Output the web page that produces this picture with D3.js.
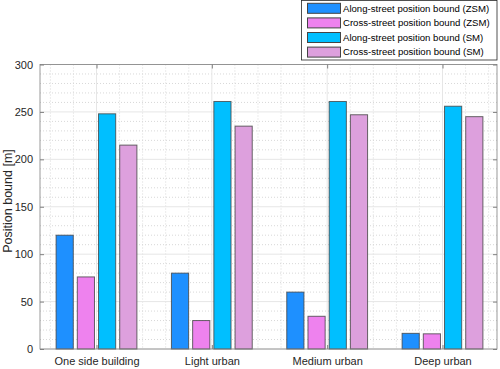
<!DOCTYPE html>
<html><head><meta charset="utf-8">
<script src="https://cdn.jsdelivr.net/npm/d3@7"></script>
<style>body{margin:0;background:#fff}svg{display:block}text{font-family:"Liberation Sans",Arial,sans-serif}</style>
</head><body><div id="c"></div>
<script>
const categories = ["One side building","Light urban","Medium urban","Deep urban"];
const seriesNames = ["Along-street position bound (ZSM)","Cross-street position bound (ZSM)","Along-street position bound (SM)","Cross-street position bound (SM)"];
const alongZSM = [120, 80, 60, 16.5];
const crossZSM = [76, 30, 34.5, 16];
const alongSM = [248, 261, 261, 256];
const crossSM = [215, 235, 247, 245];
const yTicks = [0,50,100,150,200,250,300];
const colors = ["#1E90FF","#EE82EE","#00BFFF","#DDA0DD"];
const seriesValues = [alongZSM, crossZSM, alongSM, crossSM];

const W=500,H=369, L=40, R=497, T=64.5, B=349;
const svg=d3.select("#c").append("svg").attr("width",W).attr("height",H);
const y=d3.scaleLinear().domain([0,300]).range([B,T]);
const x=d3.scaleLinear().domain([1,4]).range([96.5,442.5]);
const sub=d3.scaleBand().domain(d3.range(4)).range([-40.4,40.4]).paddingInner(0.19);

// minor grid
const g=svg.append("g");
d3.range(0,301,10).filter(v=>v%50!==0).forEach(v=>{
  g.append("line").attr("x1",L).attr("x2",R).attr("y1",y(v)).attr("y2",y(v)).attr("stroke","#d8d8d8").attr("stroke-dasharray","1,2").attr("stroke-width",1);
});
const x0=x.invert(L), x1=x.invert(R);
d3.range(Math.ceil(x0*5),Math.floor(x1*5)+1).map(v=>v/5).filter(v=>Math.abs(v-Math.round(v))>1e-6).forEach(v=>{
  g.append("line").attr("y1",T).attr("y2",B).attr("x1",x(v)).attr("x2",x(v)).attr("stroke","#d8d8d8").attr("stroke-dasharray","1,2").attr("stroke-width",1);
});
// major grid
yTicks.forEach(v=>g.append("line").attr("x1",L).attr("x2",R).attr("y1",y(v)).attr("y2",y(v)).attr("stroke","#e6e6e6"));
[1,2,3,4].forEach(v=>g.append("line").attr("y1",T).attr("y2",B).attr("x1",x(v)).attr("x2",x(v)).attr("stroke","#e6e6e6"));

// bars
seriesValues.forEach((vals,si)=>{
  svg.append("g").selectAll("rect").data(vals).join("rect")
    .attr("x",(d,i)=>x(i+1)+sub(si)).attr("width",sub.bandwidth())
    .attr("y",d=>y(d)).attr("height",d=>y(0)-y(d))
    .attr("fill",colors[si]).attr("stroke","#444").attr("stroke-opacity",0.8).attr("stroke-width",1);
});

// axes box
const ax="#262626";
svg.append("rect").attr("x",L).attr("y",T).attr("width",R-L).attr("height",B-T).attr("fill","none").attr("stroke","#808080").attr("stroke-width",0.8);
const yAxis=d3.axisLeft(y).tickValues(yTicks).tickSize(-4).tickPadding(7);
const ya=svg.append("g").attr("transform",`translate(${L},0)`).call(yAxis);
ya.select(".domain").remove();
ya.selectAll("line").attr("stroke","#808080");
ya.selectAll("text").attr("font-size",11).attr("fill",ax).attr("font-family","Liberation Sans, Arial, sans-serif");
const yr=svg.append("g").attr("transform",`translate(${R},0)`).call(d3.axisRight(y).tickValues(yTicks).tickSize(-4).tickFormat(""));
yr.select(".domain").remove(); yr.selectAll("line").attr("stroke","#808080");
const xa=svg.append("g").attr("transform",`translate(0,${B})`).call(d3.axisBottom(x).tickValues([1,2,3,4]).tickSize(-4).tickPadding(8).tickFormat(d=>categories[d-1]));
xa.select(".domain").remove(); xa.selectAll("line").attr("stroke","#808080");
xa.selectAll("text").attr("font-size",11).attr("fill",ax).attr("font-family","Liberation Sans, Arial, sans-serif");
const xt=svg.append("g").attr("transform",`translate(0,${T})`).call(d3.axisTop(x).tickValues([1,2,3,4]).tickSize(-4).tickFormat(""));
xt.select(".domain").remove(); xt.selectAll("line").attr("stroke","#808080");

svg.append("text").attr("transform",`translate(11.5,201) rotate(-90)`).attr("text-anchor","middle")
  .attr("font-size",12.5).attr("fill",ax).text("Position bound [m]");

// legend
const lg=svg.append("g");
lg.append("rect").attr("x",301.5).attr("y",0.5).attr("width",195.5).attr("height",59.5).attr("fill","#fff").attr("stroke","#262626").attr("stroke-width",0.8);
seriesNames.forEach((n,i)=>{
  const cy=8.3+i*14.6;
  lg.append("rect").attr("x",307.5).attr("y",cy-5).attr("width",33).attr("height",10).attr("fill",colors[i]).attr("stroke","#444");
  lg.append("text").attr("x",343).attr("y",cy).attr("dy","0.35em").attr("font-size",9.6).attr("fill","#000").text(n);
});
</script></body></html>
